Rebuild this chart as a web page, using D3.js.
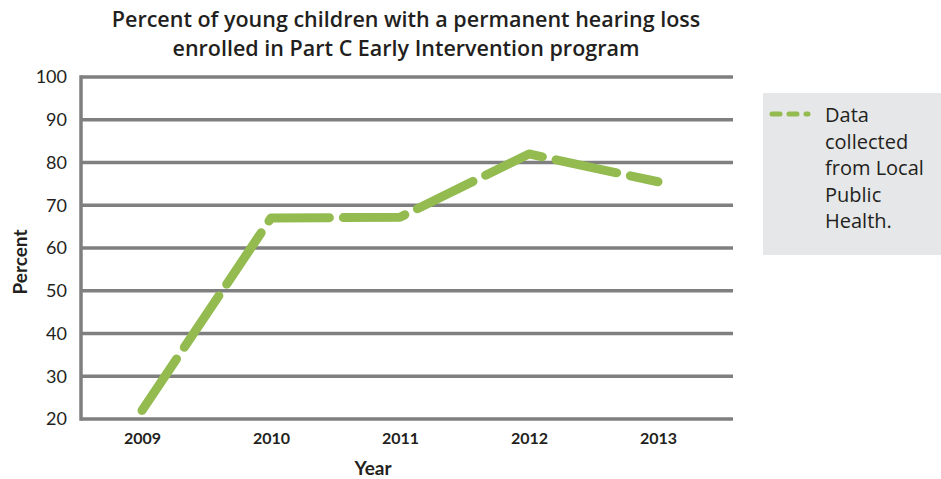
<!DOCTYPE html>
<html>
<head>
<meta charset="utf-8">
<script src="https://cdn.jsdelivr.net/npm/d3@7"></script>
<style>
body { margin: 0; background: #fff; }
</style>
</head>
<body>
<div id="chart"></div>
<script>
var years = ["2009", "2010", "2011", "2012", "2013"];
var percents = [22, 67, 67.2, 82, 75.5];
var yTicks = [20, 30, 40, 50, 60, 70, 80, 90, 100];
var legendLines = ["Data", "collected", "from Local", "Public", "Health."];

var svg = d3.select("#chart")
	.append("svg")
	.attr("width", 941)
	.attr("height", 479);

var plotLeft = 81, plotRight = 733, plotTop = 77, plotBottom = 419;

var xScale = d3.scalePoint()
	.domain(years)
	.range([142, 658]);

var yScale = d3.scaleLinear()
	.domain([20, 100])
	.range([plotBottom, plotTop]);

// title
var title = svg.append("text")
	.attr("text-anchor", "middle")
	.attr("font-family", "Open Sans")
	.attr("font-weight", 600)
	.attr("font-size", "21.5px")
	.attr("fill", "#231f20");
title.append("tspan").attr("x", 406).attr("y", 27)
	.text("Percent of young children with a permanent hearing loss");
title.append("tspan").attr("x", 406).attr("y", 56)
	.text("enrolled in Part C Early Intervention program");

// gridlines
svg.append("g")
	.selectAll("line")
	.data(yTicks)
	.enter()
	.append("line")
	.attr("x1", plotLeft)
	.attr("x2", plotRight)
	.attr("y1", d => yScale(d))
	.attr("y2", d => yScale(d))
	.attr("stroke", "#7f7f7f")
	.attr("stroke-width", 3.5);

// left axis line
svg.append("line")
	.attr("x1", plotLeft).attr("x2", plotLeft)
	.attr("y1", plotTop - 1.75).attr("y2", plotBottom + 1.75)
	.attr("stroke", "#7f7f7f")
	.attr("stroke-width", 3.5);

// y axis labels
var yAxis = d3.axisLeft(yScale).tickValues(yTicks).tickSize(0).tickPadding(14);
var yg = svg.append("g")
	.attr("transform", `translate(${plotLeft}, 0)`)
	.call(yAxis);
yg.select(".domain").remove();
yg.selectAll("text")
	.attr("font-family", "Lato")
	.attr("font-size", "18px")
	.attr("fill", "#231f20");

// x axis labels
var xAxis = d3.axisBottom(xScale).tickSize(0).tickPadding(14);
var xg = svg.append("g")
	.attr("transform", `translate(0, ${plotBottom})`)
	.call(xAxis);
xg.select(".domain").remove();
xg.selectAll("text")
	.attr("font-family", "Lato")
	.attr("font-weight", "bold")
	.attr("font-size", "16px")
	.attr("fill", "#231f20");

svg.append("text")
	.attr("x", 373).attr("y", 475)
	.attr("text-anchor", "middle")
	.attr("font-family", "Lato")
	.attr("font-weight", "bold")
	.attr("font-size", "19px")
	.attr("fill", "#231f20")
	.text("Year");

svg.append("text")
	.attr("transform", "translate(27, 262) rotate(-90)")
	.attr("text-anchor", "middle")
	.attr("font-family", "Lato")
	.attr("font-weight", "bold")
	.attr("font-size", "19px")
	.attr("fill", "#231f20")
	.text("Percent");

// the line
var line = d3.line()
	.x((d, i) => xScale(years[i]))
	.y(d => yScale(d));

svg.append("path")
	.datum(percents)
	.attr("d", line)
	.attr("fill", "none")
	.attr("stroke", "#93bb50")
	.attr("stroke-width", 9)
	.attr("stroke-linecap", "round")
	.attr("stroke-linejoin", "round")
	.attr("stroke-dasharray", "62,14");

// legend
var legend = svg.append("g");
legend.append("rect")
	.attr("x", 763).attr("y", 93)
	.attr("width", 178).attr("height", 162)
	.attr("fill", "#e6e7e8");
legend.append("line")
	.attr("x1", 772).attr("x2", 808)
	.attr("y1", 114).attr("y2", 114)
	.attr("stroke", "#93bb50")
	.attr("stroke-width", 5)
	.attr("stroke-linecap", "round")
	.attr("stroke-dasharray", "8,9");
legend.selectAll("text")
	.data(legendLines)
	.enter()
	.append("text")
	.attr("x", 825)
	.attr("y", (d, i) => 122 + i * 26.5)
	.attr("font-family", "Open Sans")
	.attr("font-size", "20px")
	.attr("fill", "#231f20")
	.text(d => d);
</script>
</body>
</html>
